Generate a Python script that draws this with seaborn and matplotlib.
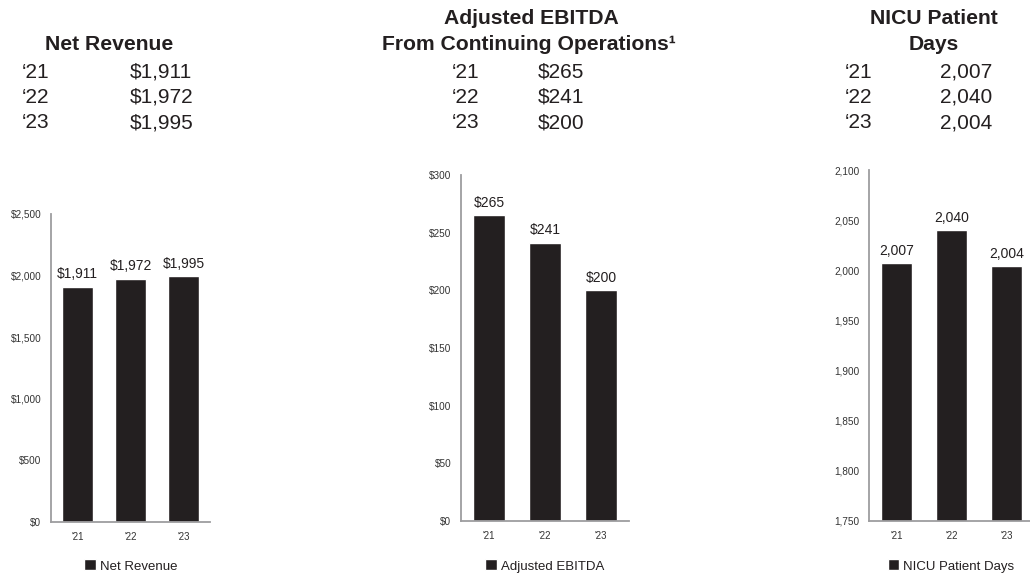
import matplotlib
matplotlib.use('Agg')
import matplotlib.pyplot as plt
import matplotlib.ticker as mticker
import seaborn as sns
import pandas as pd

# Data
years = ["'21", "'22", "'23"]
year_rows = ["\u201821", "\u201822", "\u201823"]

net_revenue = [1911, 1972, 1995]
adj_ebitda = [265, 241, 200]
nicu_days = [2007, 2040, 2004]

net_revenue_labels = ["$1,911", "$1,972", "$1,995"]
adj_ebitda_labels = ["$265", "$241", "$200"]
nicu_days_labels = ["2,007", "2,040", "2,004"]

sns.set_style('white')
plt.rcParams['font.family'] = ['Liberation Sans', 'DejaVu Sans']

BAR = '#231f20'
SPINE = '#9d9d9f'
TXT = '#231f20'
HEAD_SIZE = 15.2
ROW_SIZE = 15

W, H = 1030, 574
fig = plt.figure(figsize=(W / 100, H / 100), dpi=100)


def fy(y):
    return 1 - y / H


def px_axes(left, right, top, bottom):
    return fig.add_axes([left / W, 1 - bottom / H, (right - left) / W, (bottom - top) / H])


def draw_panel(ax, values, labels, legend_name, ylim, step, fmt, legend_x):
    df = pd.DataFrame({'year': years, 'value': values})
    sns.barplot(data=df, x='year', y='value', color=BAR, width=0.58,
                saturation=1, label=legend_name, ax=ax)
    ax.set_xlim(-0.5, 2.5)
    ax.set_ylim(*ylim)
    ax.yaxis.set_major_locator(mticker.MultipleLocator(step))
    ax.yaxis.set_major_formatter(mticker.FuncFormatter(fmt))
    ax.bar_label(ax.containers[0], labels=labels, padding=4, fontsize=10, color=TXT)
    ax.set_xlabel('')
    ax.set_ylabel('')
    for s in ['top', 'right']:
        ax.spines[s].set_visible(False)
    for s in ['left', 'bottom']:
        ax.spines[s].set_color(SPINE)
        ax.spines[s].set_linewidth(1.3)
    ax.tick_params(axis='y', length=0, pad=7, labelsize=7.2, labelcolor='#333333')
    ax.tick_params(axis='x', length=0, pad=7, labelsize=7, labelcolor='#333333')
    ax.legend(loc='center', bbox_to_anchor=(legend_x / W, fy(566)), bbox_transform=fig.transFigure,
              frameon=False, fontsize=9.5, handlelength=0.9, handleheight=0.9,
              handletextpad=0.3, labelcolor=TXT)
    ax.patch.set_alpha(0)


# Panel 1: Net Revenue
ax1 = px_axes(51, 210, 214, 522)
draw_panel(ax1, net_revenue, net_revenue_labels, 'Net Revenue', (0, 2500), 500,
           lambda v, p: f'${v:,.0f}', 131)

# Panel 2: Adjusted EBITDA
ax2 = px_axes(461, 629, 175, 521)
draw_panel(ax2, adj_ebitda, adj_ebitda_labels, 'Adjusted EBITDA', (0, 300), 50,
           lambda v, p: f'${v:,.0f}', 545)

# Panel 3: NICU Patient Days
ax3 = px_axes(869, 1034, 170, 521)
draw_panel(ax3, nicu_days, nicu_days_labels, 'NICU Patient Days', (1750, 2100), 50,
           lambda v, p: f'{v:,.0f}', 951)

# Summary text blocks on top
row_y = [72, 97, 123]

fig.text(109 / W, fy(45), 'Net Revenue', ha='center', va='center',
         fontsize=HEAD_SIZE, fontweight='bold', color=TXT)
for i in range(3):
    fig.text(22 / W, fy(row_y[i]), year_rows[i], ha='left', va='center', fontsize=ROW_SIZE, color=TXT)
    fig.text(130 / W, fy(row_y[i]), net_revenue_labels[i], ha='left', va='center', fontsize=ROW_SIZE, color=TXT)

fig.text(531 / W, fy(18), 'Adjusted EBITDA', ha='center', va='center',
         fontsize=HEAD_SIZE, fontweight='bold', color=TXT)
fig.text(529 / W, fy(44), 'From Continuing Operations\u00b9', ha='center', va='center',
         fontsize=HEAD_SIZE, fontweight='bold', color=TXT)
for i in range(3):
    fig.text(452 / W, fy(row_y[i]), year_rows[i], ha='left', va='center', fontsize=ROW_SIZE, color=TXT)
    fig.text(538 / W, fy(row_y[i]), adj_ebitda_labels[i], ha='left', va='center', fontsize=ROW_SIZE, color=TXT)

fig.text(934 / W, fy(18), 'NICU Patient', ha='center', va='center',
         fontsize=HEAD_SIZE, fontweight='bold', color=TXT)
fig.text(934 / W, fy(44), 'Days', ha='center', va='center',
         fontsize=HEAD_SIZE, fontweight='bold', color=TXT)
for i in range(3):
    fig.text(845 / W, fy(row_y[i]), year_rows[i], ha='left', va='center', fontsize=ROW_SIZE, color=TXT)
    fig.text(992 / W, fy(row_y[i]), nicu_days_labels[i], ha='right', va='center', fontsize=ROW_SIZE, color=TXT)

fig.savefig('out.png', dpi=100, facecolor='white')
